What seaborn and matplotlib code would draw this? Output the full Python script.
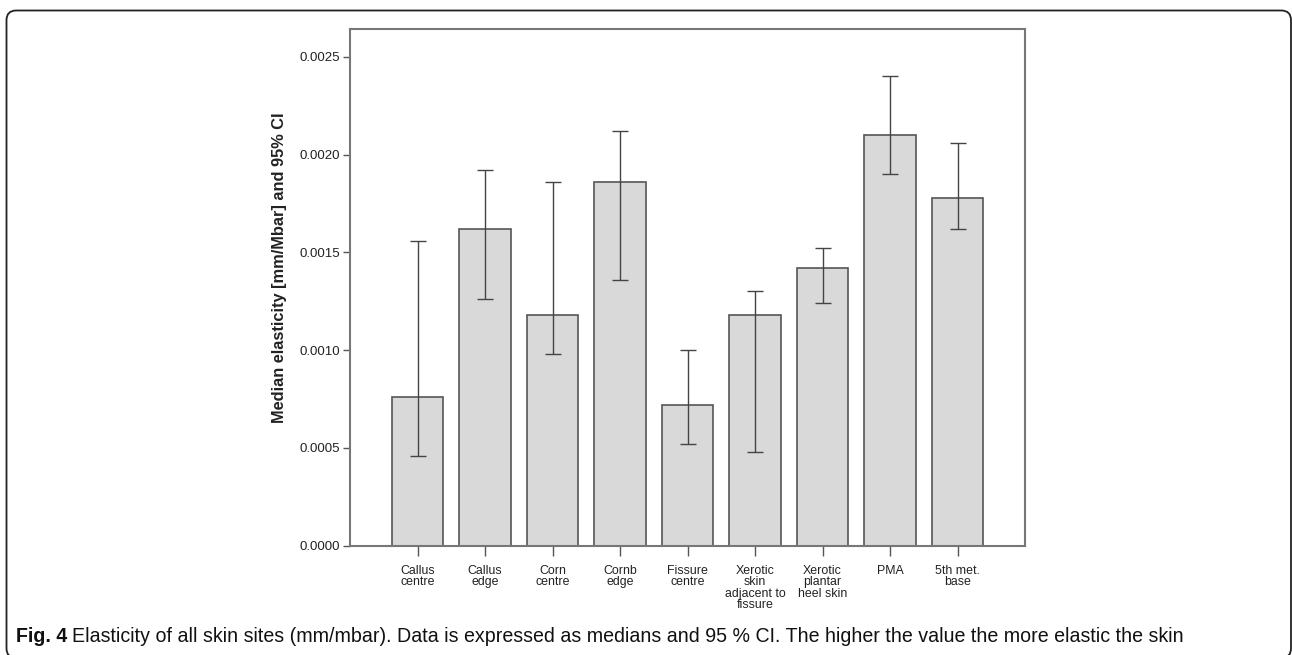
import numpy as np
import matplotlib
matplotlib.use("Agg")
import matplotlib.pyplot as plt
import seaborn as sns
from matplotlib.patches import FancyBboxPatch

categories = ["Callus\ncentre", "Callus\nedge", "Corn\ncentre", "Cornb\nedge",
              "Fissure\ncentre", "Xerotic\nskin\nadjacent to\nfissure",
              "Xerotic\nplantar\nheel skin", "PMA", "5th met.\nbase"]
medians = [0.00076, 0.00162, 0.00118, 0.00186, 0.00072, 0.00118, 0.00142, 0.00210, 0.00178]
ci_low = [0.00046, 0.00126, 0.00098, 0.00136, 0.00052, 0.00048, 0.00124, 0.00190, 0.00162]
ci_high = [0.00156, 0.00192, 0.00186, 0.00212, 0.00100, 0.00130, 0.00152, 0.00240, 0.00206]
y_ticks = [0.0000, 0.0005, 0.0010, 0.0015, 0.0020, 0.0025]
y_label = "Median elasticity [mm/Mbar] and 95% CI"
caption_bold = "Fig. 4"
caption_rest = ("Elasticity of all skin sites (mm/mbar). Data is expressed as medians and 95 % CI. "
                "The higher the value the more elastic the skin")

sns.set_style("white")
plt.rcParams['font.family'] = ['Liberation Sans', 'DejaVu Sans']
narrow = ['Liberation Sans Narrow', 'Liberation Sans', 'DejaVu Sans']

W, H = 1292, 655
fig = plt.figure(figsize=(W / 100, H / 100), dpi=100)
ax = fig.add_axes([350 / W, 1 - 545.5 / H, 675 / W, (545.5 - 29) / H])

x = np.arange(len(categories))
sns.barplot(x=categories, y=medians, color="#d9d9d9", edgecolor="#555555",
            linewidth=1.2, width=0.76, saturation=1, ax=ax)
med = np.array(medians)
lo = np.array(ci_low)
hi = np.array(ci_high)
ax.errorbar(x, med, yerr=[med - lo, hi - med], fmt="none", ecolor="#444444",
            elinewidth=1.0, capsize=6.1, capthick=1.0, zorder=5)

ax.set_xlim(-1.0, len(categories))
ax.set_ylim(0, 0.002643)
ax.set_yticks(y_ticks)
ax.set_yticklabels([f"{v:.4f}" for v in y_ticks], fontsize=9.5, color="#222222")
ax.set_xticks(x)
ax.set_xticklabels(categories, fontsize=8.9, color="#222222", linespacing=0.93,
                   family=narrow)
ax.tick_params(axis="y", direction="out", length=5, width=1.0, color="#555555",
               left=True, pad=2)
ax.tick_params(axis="x", direction="out", length=7, width=1.0, color="#555555",
               bottom=True, pad=7)
ax.set_xlabel("")
ax.set_ylabel(y_label, fontsize=11.8, fontweight="bold", color="#222222")
ax.yaxis.set_label_coords(-0.0933, 0.537)
for s in ax.spines.values():
    s.set_visible(True)
    s.set_color("#777777")
    s.set_linewidth(1.5)

# rounded outer frame
frame = FancyBboxPatch((6.5 / W, 1 - 658 / H), (1291 - 6.5) / W, (658 - 10.5) / H,
                       boxstyle="round,pad=0,rounding_size=0.0075",
                       transform=fig.transFigure, fill=False, edgecolor="#222222",
                       linewidth=1.3, mutation_aspect=W / H)
fig.patches.append(frame)

t1 = fig.text(16 / W, 1 - 642 / H, caption_bold, fontsize=14.1, fontweight="bold",
              family=narrow, va="baseline", ha="left", color="#111111")
fig.canvas.draw()
ax.annotate(caption_rest, xy=(1, 0), xycoords=t1, xytext=(3.5, 0), textcoords="offset points",
            fontsize=14.1, va="bottom", ha="left", color="#111111",
            family=narrow, annotation_clip=False)

fig.savefig("out.png", dpi=100)
